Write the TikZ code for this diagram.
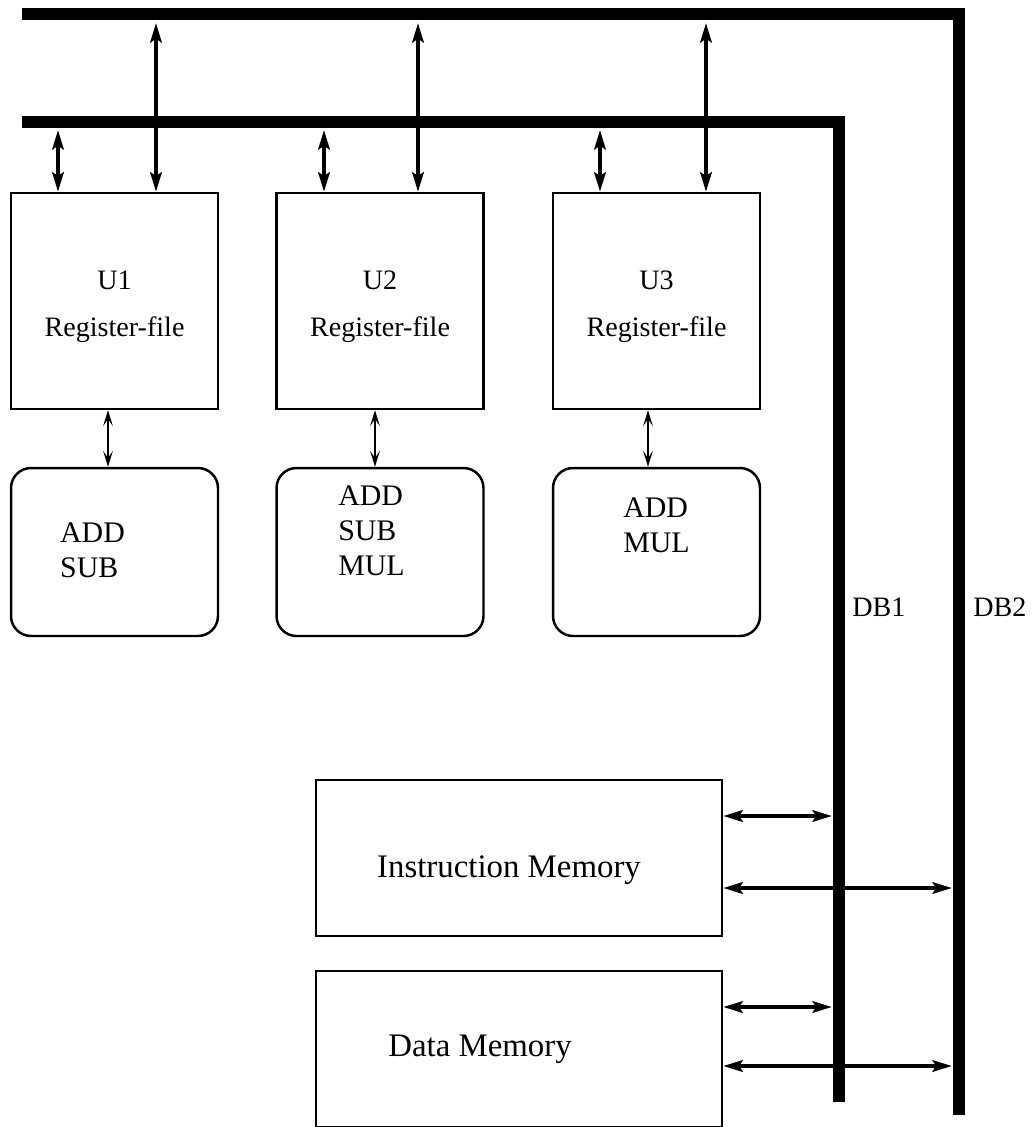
\documentclass[tikz,border=0pt]{standalone}
\usepackage{fontspec}
\setmainfont{Liberation Serif}
\usetikzlibrary{arrows.meta}
\tikzset{
  regbox/.style={draw,line width=1.4pt,minimum width=4.14cm,minimum height=4.32cm,inner sep=0pt},
  regtext/.style={align=center,inner sep=0pt,yshift=-0.12cm,font=\fontsize{16}{26.6}\selectfont},
  fubox/.style={draw,line width=1.4pt,rounded corners=0.4cm,minimum width=4.14cm,minimum height=3.36cm,inner sep=0pt},
  membox/.style={draw,line width=1.4pt,minimum width=8.12cm,minimum height=3.12cm,inner sep=0pt},
  optext/.style={align=left,inner sep=0pt,font=\fontsize{17}{19.9}\selectfont},
  memtext/.style={anchor=base,inner sep=0pt,font=\fontsize{18.7}{22}\selectfont},
  buslabel/.style={anchor=base west,inner sep=0pt,font=\fontsize{16}{19}\selectfont},
  bus/.style={line width=6.8pt,line join=miter},
  busarrow/.style={line width=2.3pt,{Stealth[length=11pt,width=6.5pt,inset=2pt]}-{Stealth[length=11pt,width=6.5pt,inset=2pt]}},
  localarrow/.style={line width=1pt,{Stealth[length=9pt,width=5.5pt,inset=4pt]}-{Stealth[length=9pt,width=5.5pt,inset=4pt]}}
}
\begin{document}
\begin{tikzpicture}[x=0.02cm,y=-0.02cm]
\useasboundingbox (0,0) rectangle (1032,1127);
% data buses
\draw[bus] (22,14) -- (959,14) -- (959,1115);
\draw[bus] (22,122) -- (839,122) -- (839,1102);
\node[buslabel] (dbonelabel) at (852,616) {DB1};
\node[buslabel] (dbtwolabel) at (973,616) {DB2};
% units
\foreach \i/\cx/\pa/\pb/\pc in {1/114.5/58/156/108, 2/380/324/418/375, 3/656.5/600/706/648}{
  \node[regbox,label={[regtext]center:U\i\\Register-file}] (rf\i) at (\cx,301) {};
  \node[fubox] (fu\i) at (\cx,552) {};
  \coordinate (dbone\i) at (\pa,130);
  \coordinate (dbtwo\i) at (\pb,23);
  \coordinate (link\i) at (\pc,0);
  \draw[busarrow] (dbone\i) -- (dbone\i |- rf\i.north);
  \draw[busarrow] (dbtwo\i) -- (dbtwo\i |- rf\i.north);
  \draw[localarrow] (rf\i.south -| link\i) -- (fu\i.north -| link\i);
}
\node[optext] (op1) at (92.5,550) {ADD\\SUB};
\node[optext] (op2) at (371.5,531) {ADD\\SUB\\MUL};
\node[optext] (op3) at (656.5,525) {ADD\\MUL};
% memories
\node[membox] (im) at (519,858) {};
\node[memtext] (imtext) at (509,877) {Instruction Memory};
\node[membox] (dm) at (519,1049) {};
\node[memtext] (dmtext) at (480,1056) {Data Memory};
\coordinate (imone) at (832,816);
\coordinate (imtwo) at (952,888);
\coordinate (dmone) at (832,1007);
\coordinate (dmtwo) at (952,1066);
\draw[busarrow] (im.east |- imone) -- (imone);
\draw[busarrow] (im.east |- imtwo) -- (imtwo);
\draw[busarrow] (dm.east |- dmone) -- (dmone);
\draw[busarrow] (dm.east |- dmtwo) -- (dmtwo);
\end{tikzpicture}
\end{document}
